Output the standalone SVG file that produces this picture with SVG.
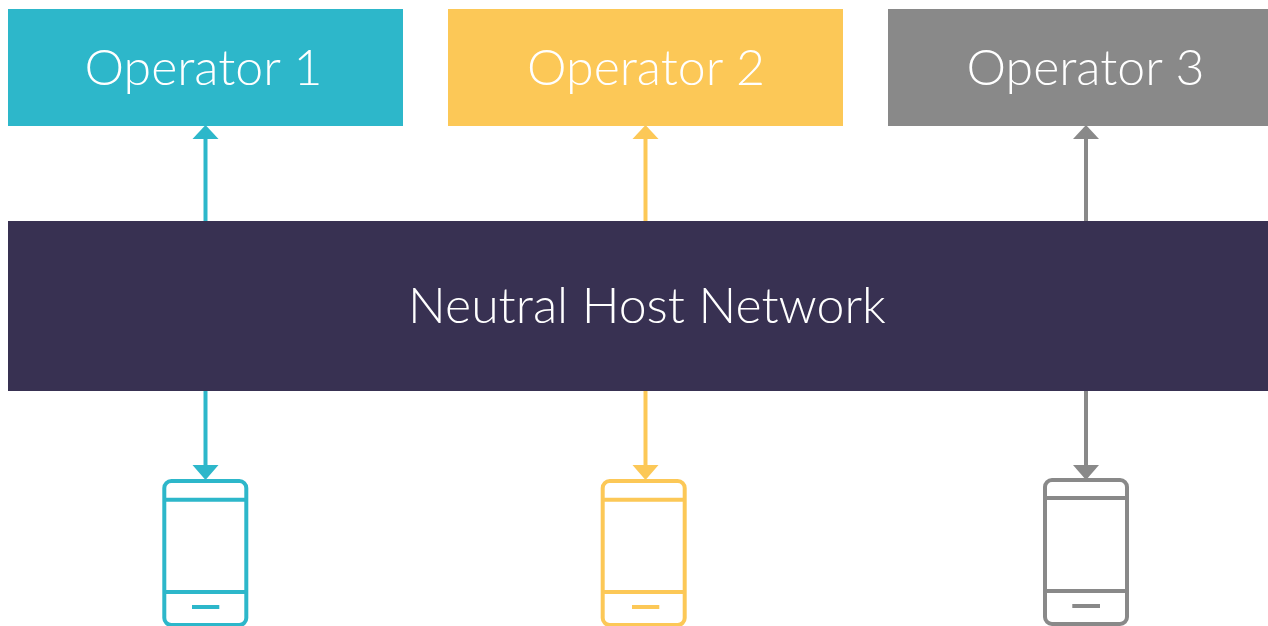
<svg xmlns="http://www.w3.org/2000/svg" width="1268" height="626" viewBox="0 0 1268 626">
<style>
text{font-family:"Lato","Liberation Sans",sans-serif;font-weight:300;fill:#fff;text-anchor:middle;font-size:50px}
.ph{fill:none;stroke-width:4}
.c1{stroke:#2db7ca}.c2{stroke:#fcc857}.c3{stroke:#898989}
.cn{stroke-width:4;fill:none}
</style>
<rect width="1268" height="626" fill="#fff"/>
<g id="connectors">
<path class="cn c1" d="M205.500 221V130"/><path d="M192.500 139L205.500 125L218.500 139Z" fill="#2db7ca"/>
<path class="cn c2" d="M645.500 221V130"/><path d="M632.500 139L645.500 125L658.500 139Z" fill="#fcc857"/>
<path class="cn c3" d="M1086 221V130"/><path d="M1073 139L1086 125L1099 139Z" fill="#898989"/>
<path class="cn c1" d="M205.500 391V468"/><path d="M192.500 465L205.500 480L218.500 465Z" fill="#2db7ca"/>
<path class="cn c2" d="M645.500 391V468"/><path d="M632.500 465L645.500 480L658.500 465Z" fill="#fcc857"/>
<path class="cn c3" d="M1086 391V468"/><path d="M1073 465L1086 480L1099 465Z" fill="#898989"/>
</g>
<g id="op1"><rect x="8" y="9" width="395" height="117" fill="#2db7ca"/><text x="203.500" y="85">Operator 1</text></g>
<g id="op2"><rect x="448" y="9" width="395" height="117" fill="#fcc857"/><text x="646" y="85">Operator 2</text></g>
<g id="op3"><rect x="888" y="9" width="395" height="117" fill="#898989"/><text x="1085.500" y="85">Operator 3</text></g>
<g id="host"><rect x="8" y="221" width="1260" height="170" fill="#383152"/><text x="647" y="323">Neutral Host Network</text></g>
<g id="phone1"><rect class="ph c1" x="164.300" y="481" width="82" height="144" rx="7"/><path class="ph c1" d="M164.300 499.700H246.300M164.300 592H246.300M192 607H219.300"/></g>
<g id="phone2"><rect class="ph c2" x="602.700" y="481" width="82" height="144" rx="7"/><path class="ph c2" d="M602.700 499.700H684.700M602.700 592H684.700M632 607H659.300"/></g>
<g id="phone3"><rect class="ph c3" x="1045" y="480" width="82" height="144" rx="7"/><path class="ph c3" d="M1045 498H1127M1045 591H1127M1072.300 606H1100"/></g>
</svg>
